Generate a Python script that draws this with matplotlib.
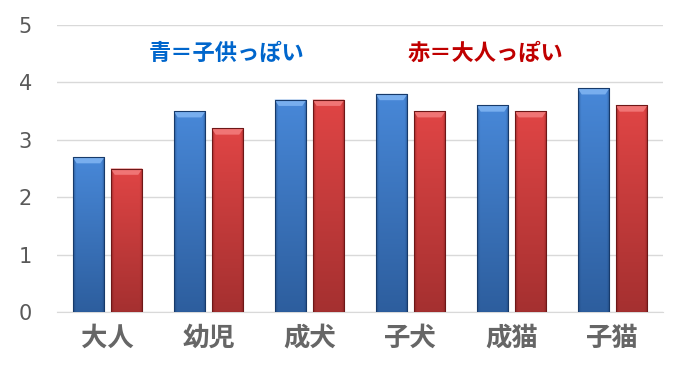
import numpy as np
import matplotlib
matplotlib.use('Agg')
import matplotlib.pyplot as plt
from matplotlib.patches import Polygon
from matplotlib.colors import to_rgb

# Data
categories = ['大人', '幼児', '成犬', '子犬', '成猫', '子猫']
blue_vals = [2.7, 3.5, 3.7, 3.8, 3.6, 3.9]
red_vals = [2.5, 3.2, 3.7, 3.5, 3.5, 3.6]
yticks = [0, 1, 2, 3, 4, 5]

plt.rcParams['font.family'] = ['Noto Sans CJK JP', 'DejaVu Sans']

fig = plt.figure(figsize=(6.73, 3.65), dpi=100)
ax = fig.add_axes([57 / 673, 1 - 312 / 365, 606 / 673, 287 / 365])

x = np.arange(len(categories))
w = 0.315
off = 0.188

bars_b = ax.bar(x - off, blue_vals, w, color='none', zorder=3)
bars_r = ax.bar(x + off, red_vals, w, color='none', zorder=3)


def shade(bars, top, bottom, edge, cap):
    top = np.array(to_rgb(top))
    bottom = np.array(to_rgb(bottom))
    edge = np.array(to_rgb(edge))
    for p in bars:
        x0, y0 = p.get_x(), p.get_y()
        bw, bh = p.get_width(), p.get_height()
        ny, nx = 100, 40
        t = np.linspace(0, 1, ny)[:, None, None]
        img = top * (1 - t) + bottom * t
        img = np.repeat(img, nx, axis=1)
        u = np.linspace(0, 1, nx)
        d = np.minimum(u, 1 - u)
        k = np.clip(1 - d / 0.1, 0, 1) ** 1.5
        k = k[None, :, None] * 0.55
        img = img * (1 - k) + edge * k
        im = ax.imshow(img, extent=[x0, x0 + bw, y0, y0 + bh], aspect='auto',
                       origin='upper', zorder=3, interpolation='bilinear')
        im.set_clip_path(p)
        # bevelled cap on top
        cap_h = 0.11
        inset = bw * 0.13
        ax.add_patch(Polygon([[x0, y0 + bh], [x0 + bw, y0 + bh],
                              [x0 + bw - inset, y0 + bh - cap_h],
                              [x0 + inset, y0 + bh - cap_h]],
                             closed=True, facecolor=cap, edgecolor='none',
                             zorder=4))
        ax.add_patch(Polygon([[x0, y0 + bh], [x0 + bw, y0 + bh], [x0 + bw, y0],
                              [x0, y0]], closed=True, facecolor='none',
                             edgecolor=edge, linewidth=0.8, zorder=5))


shade(bars_b, '#4888D8', '#2D5E9E', '#173A6A', '#78AEEE')
shade(bars_r, '#E04545', '#A53030', '#6E1717', '#F07575')

ax.set_xlim(-0.5, len(categories) - 0.5)
ax.set_ylim(0, 5)
ax.set_yticks(yticks)
ax.set_xticks(x)
ax.set_xticklabels(categories, fontsize=19, fontweight='bold', color='#666666')
ax.tick_params(axis='y', length=0, pad=18, labelsize=15, labelcolor='#595959')
ax.tick_params(axis='x', length=0, pad=9)
for lbl in ax.get_yticklabels():
    lbl.set_family(['DejaVu Sans'])
ax.grid(axis='y', color='#D9D9D9', linewidth=1, zorder=0)
ax.set_axisbelow(True)
for s in ['top', 'right', 'left']:
    ax.spines[s].set_visible(False)
ax.spines['bottom'].set_color('#D9D9D9')

ax.text(1.18, 4.5, '青＝子供っぽい', fontsize=16, fontweight='bold',
        color='#0066CC', ha='center', va='center')
ax.text(3.74, 4.5, '赤＝大人っぽい', fontsize=16, fontweight='bold',
        color='#C00000', ha='center', va='center')

fig.savefig('out.png', dpi=100)
